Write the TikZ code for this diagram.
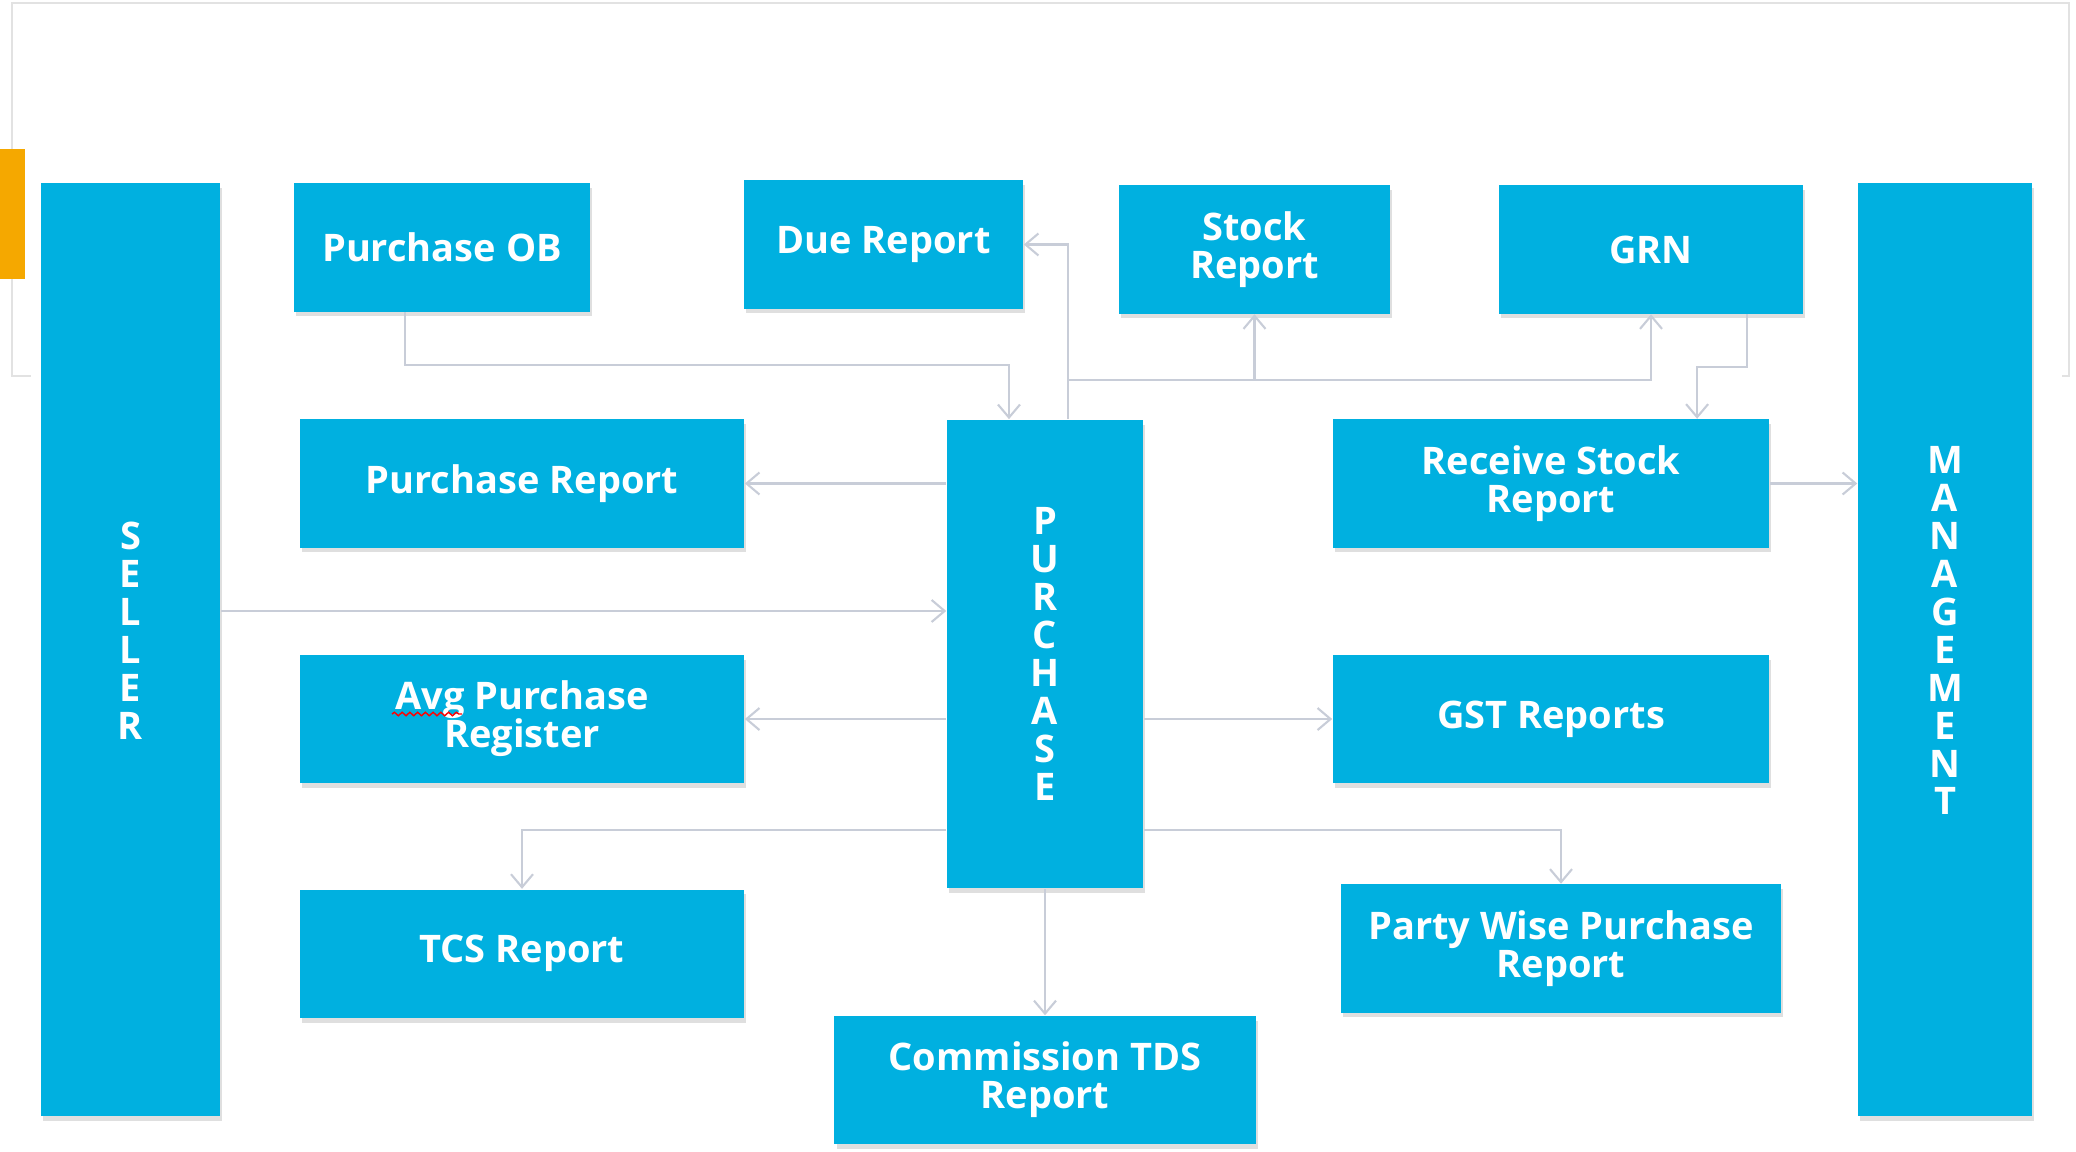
\documentclass[tikz,border=0pt]{standalone}
\usepackage{fontspec}
\setmainfont{Open Sans}
\usetikzlibrary{arrows.meta}
\usetikzlibrary{positioning}
\usetikzlibrary{shadows}
\usetikzlibrary{decorations.pathmorphing}

\definecolor{boxblue}{RGB}{0,176,224}
\definecolor{linkgray}{RGB}{200,205,216}
\definecolor{slideorange}{RGB}{245,168,0}
\definecolor{framegray}{RGB}{226,226,226}

\begin{document}
\begin{tikzpicture}[x=0.01cm,y=-0.01cm,
  every node/.style={font=\bfseries\fontsize{10.8}{10.8}\selectfont,text=white},
  block/.style={fill=boxblue,align=center,inner sep=0pt,
    drop shadow={shadow xshift=0.6pt,shadow yshift=-1.4pt,opacity=0.25,fill=gray}},
  report/.style={block,minimum height=1.28cm},
  link/.style={draw=linkgray,line width=0.6pt,-{Straight Barb[length=1.3mm,width=2.2mm]}},
  spellwave/.style={red,line width=0.4pt,decorate,decoration={snake,amplitude=0.5pt,segment length=2.2pt}}]
  \useasboundingbox (0,0) rectangle (2076,1152);
  \draw[framegray,line width=0.8pt] (31,376) -- (12,376) -- (12,3) -- (2069,3) -- (2069,376) -- (2062,376);
  \fill[slideorange] (0,149) rectangle (25,279);

  % side columns
  \node[block,minimum width=1.79cm,minimum height=9.33cm] (seller) at (130.5,649.5) {S\\E\\L\\L\\E\\R\\\mbox{}};
  \node[block,minimum width=1.74cm,minimum height=9.33cm] (mgmt) at (1945,649.5) {M\\A\\N\\A\\G\\E\\M\\E\\N\\T\\\mbox{}};
  \node[block,minimum width=1.96cm,minimum height=4.68cm] (purch) at (1045,654) {P\\U\\R\\C\\H\\A\\S\\E};

  % top row
  \node[report,minimum width=2.96cm] (pob) at (442,247.5) {Purchase OB};
  \node[report,minimum width=2.79cm] (due) at (883.5,244.5) {Due Report};
  \node[report,minimum width=2.71cm] (stock) at (1254.5,249.5) {Stock\\Report};
  \node[report,minimum width=3.04cm] (grn) at (1651,249.5) {GRN};

  % left and right reports
  \node[report,minimum width=4.44cm] (prep) at (522,483.5) {Purchase Report};
  \node[report,minimum width=4.44cm,below=1.06cm of prep] (avg) {Avg Purchase\\Register};
  \node[report,minimum width=4.44cm,below=1.05cm of avg] (tcs) {TCS Report};
  \node[report,minimum width=4.36cm] (rsr) at (1551,483.5) {Receive Stock\\Report};
  \node[report,minimum width=4.36cm,below=1.06cm of rsr] (gst) {GST Reports};
  \node[report,minimum width=4.40cm] (party) at (1561,948.5) {Party Wise Purchase\\Report};
  \node[report,minimum width=4.21cm] (tds) at (1045,1080) {Commission TDS\\Report};
  \draw[spellwave] (392,714) -- (462,714);

  \draw[link] ([xshift=-0.37cm]pob.south) -- ++(0,53) -| ([xshift=-0.36cm]purch.north);
  \draw[link] ([xshift=0.23cm]purch.north) |- (due.east);
  \path ([xshift=0.23cm]purch.north) ++(0,-39) coordinate (hub);
  \draw[link] (hub) -| (stock.south);
  \draw[link] (hub) -| (grn.south);
  \draw[link] ([xshift=0.96cm]grn.south) -- ++(0,53) -| ([xshift=1.46cm]rsr.north);
  \draw[link] (purch.west |- prep.east) -- (prep.east);
  \draw[link] ([yshift=0.385cm]seller.east) -- ([yshift=0.385cm]seller.east -| purch.west);
  \draw[link] (purch.west |- avg.east) -- (avg.east);
  \draw[link] (purch.east |- gst.west) -- (gst.west);
  \draw[link] (rsr.east) -- (rsr.east -| mgmt.west);
  \draw[link] ([yshift=-1.76cm]purch.west) -| (tcs.north);
  \draw[link] ([yshift=-1.76cm]purch.east) -| (party.north);
  \draw[link] (purch.south) -- (tds.north);
\end{tikzpicture}
\end{document}
